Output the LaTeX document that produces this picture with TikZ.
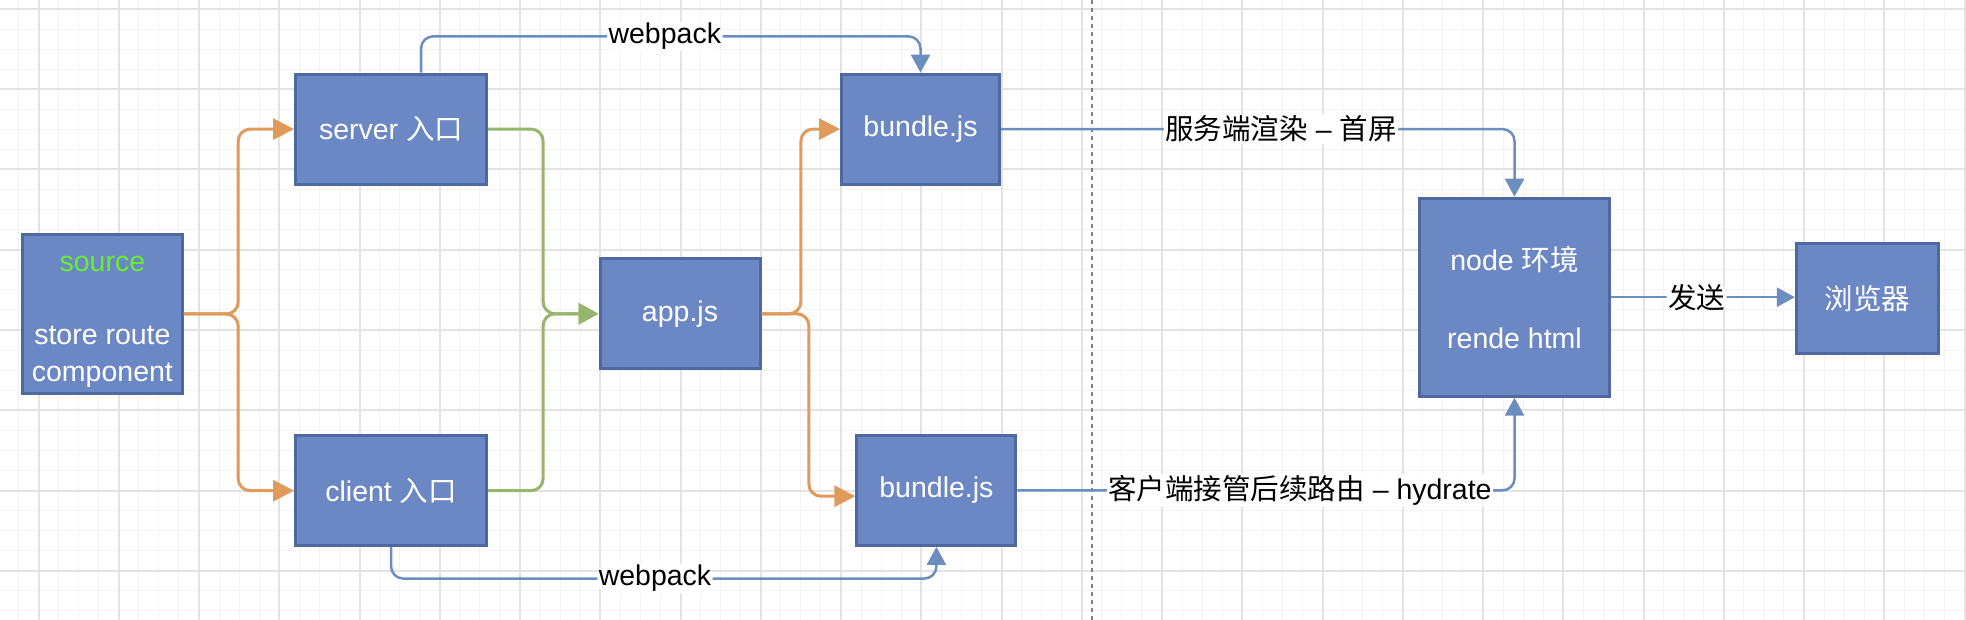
\documentclass[tikz,border=0pt]{standalone}
\usepackage{fontspec}
\setmainfont{Liberation Sans}
\newfontfamily\cjk{Noto Sans CJK SC}
\usetikzlibrary{arrows.meta}
\definecolor{boxfill}{HTML}{6C88C4}
\definecolor{boxdraw}{HTML}{4E699F}
\definecolor{lineblue}{HTML}{6C8EBF}
\definecolor{lineorange}{HTML}{DF9A5C}
\definecolor{linegreen}{HTML}{97B56C}
\definecolor{srcgreen}{HTML}{66EE33}
\definecolor{gridmajor}{HTML}{E3E3E3}
\definecolor{gridminor}{HTML}{F3F3F3}
\definecolor{sepgray}{HTML}{808080}
\begin{document}
\begin{tikzpicture}[x=1pt,y=-1pt,
  txt/.style={font=\fontsize{28.5pt}{36.8pt}\selectfont},
  box/.style={txt, draw=boxdraw, fill=boxfill, line width=3pt, text=white, inner sep=0pt, align=center},
  lbl/.style={txt, fill=white, text=black, inner sep=1.5pt},
  conn/.style={rounded corners=12pt, line width=3pt},
  oarrow/.style={conn, draw=lineorange, -{Triangle[length=21pt,width=21pt]}},
  garrow/.style={conn, draw=linegreen, -{Triangle[length=20pt,width=21pt]}},
  barrow/.style={rounded corners=12pt, line width=2.5pt, draw=lineblue, -{Triangle[length=18pt,width=19pt]}}
]
% background and grid
\fill[white] (0,0) rectangle (1966,620);
\useasboundingbox (0,0) rectangle (1966,620);
\foreach \k in {-2,...,96} {
  \draw[gridminor, line width=1pt] ({38.5+20.0625*\k},0) -- ({38.5+20.0625*\k},620);
}
\foreach \k in {-1,...,30} {
  \draw[gridminor, line width=1pt] (0,{9+20.0625*\k}) -- (1966,{9+20.0625*\k});
}
\foreach \k in {0,...,24} {
  \draw[gridmajor, line width=2pt] ({38.5+80.25*\k},0) -- ({38.5+80.25*\k},620);
}
\foreach \k in {0,...,7} {
  \draw[gridmajor, line width=2pt] (0,{9+80.25*\k}) -- (1966,{9+80.25*\k});
}
% separator
\draw[sepgray, line width=2pt, dash pattern=on 4pt off 4pt] (1092,0) -- (1092,620);

% boxes
\node[box, minimum width=160pt, minimum height=158pt] (src) at (102.4,314)
  {\raisebox{0pt}[31pt][0pt]{}\textcolor{srcgreen}{source}\\[36.8pt]store route\\component};
\node[box, minimum width=191pt, minimum height=110pt] (server) at (391.1,129.1) {server {\cjk 入口}};
\node[box, minimum width=191pt, minimum height=110pt] (client) at (391.1,490.7) {client {\cjk 入口}};
\node[box, minimum width=160pt, minimum height=110pt] (app) at (680,313.8) {app.js};
\node[box, minimum width=158pt, minimum height=110pt] (b1) at (920.5,129.1) {bundle.js};
\node[box, minimum width=159pt, minimum height=110pt] (b2) at (936.4,490.4) {bundle.js};
\node[box, minimum width=190pt, minimum height=198pt] (env) at (1514.5,297.2)
  {node {\cjk 环境}\\[41pt]rende html};
\node[box, minimum width=142pt, minimum height=110pt] (browser) at (1867.4,298.2) {\cjk 浏览器};

% label anchor coordinates
\coordinate (wtop) at (664.8,36.4);
\coordinate (wbot) at (655,578.5);
\coordinate (lab1) at (1281,129.1);
\coordinate (lab2) at (1300,490.4);

% orange
\draw[oarrow] (src.east) -- ++(54.3,0) |- (server.west);
\draw[oarrow] (src.east) -- ++(54.3,0) |- (client.west);
\draw[oarrow] (app.east) -- ++(39.4,0) |- (b1.west);
\draw[oarrow] (app.east) -- ++(47.4,0) |- ([yshift=-5.8pt]b2.west);
% green
\draw[garrow] (server.east) -- ++(55,0) |- (app.west);
\draw[garrow] (client.east) -- ++(55,0) |- (app.west);
% blue
\draw[barrow] ([xshift=30pt]server.north) |- (wtop) node[lbl] {webpack} -| (b1.north);
\draw[barrow] (client.south) |- (wbot) node[lbl] {webpack} -| (b2.south);
\draw[barrow] (b1.east) -- (lab1) node[lbl] {{\cjk 服务端渲染} – {\cjk 首屏}} -| (env.north);
\draw[barrow] (b2.east) -- (lab2) node[lbl] {{\cjk 客户端接管后续路由} – hydrate} -| (env.south);
\draw[barrow] (env.east) -- node[lbl, pos=0.465] {\cjk 发送} (env.east -| browser.west);
\end{tikzpicture}
\end{document}
